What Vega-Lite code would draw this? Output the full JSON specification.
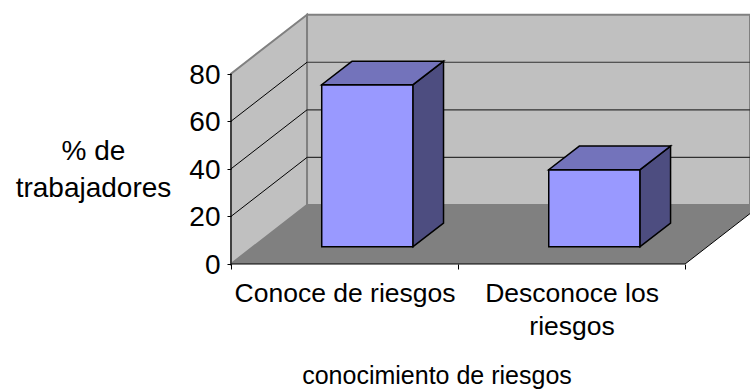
{
  "$schema": "https://vega.github.io/schema/vega-lite/v6.json",
  "width": 519,
  "height": 254,
  "padding": {"left": 231, "top": 10, "right": 0, "bottom": 125},
  "autosize": {"type": "none"},
  "background": "white",
  "config": {"view": {"stroke": null}, "font": "Liberation Sans"},
  "datasets": {
    "pared_fondo": [{"x": 0.3348, "x2": 2.286, "y": 24.8, "y2": 104.8}],
    "pared_lateral": [
      {"x": 0, "y": 0, "y2": 80},
      {"x": 0.3348, "y": 24.8, "y2": 104.8}
    ],
    "suelo": [
      {"x": 0, "x2": 2, "y": 0},
      {"x": 0.3348, "x2": 2.3348, "y": 24.8}
    ],
    "ejes": [
      {"x": 0, "x2": 0, "y": 0, "y2": 80},
      {"x": 0, "x2": 2, "y": 0, "y2": 0}
    ],
    "rejilla_fondo": [
      {"x": 0.3348, "x2": 2.286, "y": 44.8},
      {"x": 0.3348, "x2": 2.286, "y": 64.8},
      {"x": 0.3348, "x2": 2.286, "y": 84.8}
    ],
    "rejilla_lateral": [
      {"g": 20, "x": 0, "y": 20}, {"g": 20, "x": 0.3348, "y": 44.8},
      {"g": 40, "x": 0, "y": 40}, {"g": 40, "x": 0.3348, "y": 64.8},
      {"g": 60, "x": 0, "y": 60}, {"g": 60, "x": 0.3348, "y": 84.8}
    ],
    "frente": [
      {"categoria": "Conoce de riesgos", "x": 0.3996, "x2": 0.8018, "y": 7.27, "y2": 75.37},
      {"categoria": "Desconoce los riesgos", "x": 1.3996, "x2": 1.8018, "y": 7.27, "y2": 39.67}
    ],
    "lado": [
      {"categoria": "Conoce de riesgos", "x": 0.8018, "y": 7.27, "y2": 75.37},
      {"categoria": "Conoce de riesgos", "x": 0.9361, "y": 17.15, "y2": 85.25},
      {"categoria": "Desconoce los riesgos", "x": 1.8018, "y": 7.27, "y2": 39.67},
      {"categoria": "Desconoce los riesgos", "x": 1.9361, "y": 17.15, "y2": 49.55}
    ],
    "tapa": [
      {"categoria": "Conoce de riesgos", "x": 0.3996, "x2": 0.8018, "y": 75.37},
      {"categoria": "Conoce de riesgos", "x": 0.5339, "x2": 0.9361, "y": 85.25},
      {"categoria": "Desconoce los riesgos", "x": 1.3996, "x2": 1.8018, "y": 39.67},
      {"categoria": "Desconoce los riesgos", "x": 1.5339, "x2": 1.9361, "y": 49.55}
    ]
  },
  "encoding": {
    "x": {
      "field": "x",
      "type": "quantitative",
      "scale": {"domain": [0, 2.286], "nice": false, "zero": false},
      "axis": {
        "values": [0, 0.5, 1, 1.5, 2],
        "grid": false,
        "zindex": 1,
        "domain": false,
        "tickColor": "black",
        "tickSize": 5,
        "tickOpacity": {"condition": {"test": "datum.value % 1 === 0", "value": 1}, "value": 0},
        "labelExpr": "datum.value === 0.5 ? 'Conoce de riesgos' : datum.value === 1.5 ? ['Desconoce los', 'riesgos'] : ''",
        "labelFontSize": 26.5,
        "labelColor": "black",
        "labelLineHeight": 33,
        "labelLimit": 400,
        "labelOverlap": false,
        "labelFlush": false,
        "labelBound": false,
        "labelPadding": 11,
        "title": "conocimiento de riesgos",
        "titleFontSize": 25,
        "titleFontWeight": "normal",
        "titleColor": "black",
        "titleX": 205.5,
        "titleY": 119,
        "titleAlign": "center",
        "titleBaseline": "alphabetic"
      }
    },
    "y": {
      "field": "y",
      "type": "quantitative",
      "scale": {"domain": [0, 106.77], "nice": false, "zero": false},
      "axis": {
        "values": [0, 20, 40, 60, 80],
        "grid": false,
        "zindex": 1,
        "domain": false,
        "tickColor": "black",
        "tickSize": 4,
        "labelFontSize": 28,
        "labelColor": "black",
        "labelPadding": 7,
        "labelOffset": 1.5,
        "labelOverlap": false,
        "labelBound": false,
        "labelFlush": false,
        "title": ["% de", "trabajadores"],
        "titleFontSize": 28,
        "titleFontWeight": "normal",
        "titleColor": "black",
        "titleAngle": 0,
        "titleX": -138,
        "titleY": 149,
        "titleAlign": "center",
        "titleBaseline": "alphabetic",
        "titleLineHeight": 37
      }
    }
  },
  "layer": [
    {
      "data": {"name": "pared_fondo"},
      "mark": {"type": "rect", "color": "#c0c0c0", "stroke": "#808080", "strokeWidth": 2, "clip": true},
      "encoding": {"x2": {"field": "x2"}, "y2": {"field": "y2"}}
    },
    {
      "data": {"name": "pared_lateral"},
      "mark": {"type": "area", "color": "#c0c0c0", "stroke": "#808080", "strokeWidth": 2},
      "encoding": {"y2": {"field": "y2"}}
    },
    {
      "data": {"name": "suelo"},
      "mark": {"type": "area", "orient": "horizontal", "color": "#808080", "clip": true},
      "encoding": {"x2": {"field": "x2"}}
    },
    {
      "data": {"name": "suelo"},
      "mark": {"type": "line", "color": "black", "strokeWidth": 1, "clip": true},
      "encoding": {"x": {"field": "x2", "type": "quantitative"}}
    },
    {
      "data": {"name": "ejes"},
      "mark": {"type": "rule", "color": "black", "strokeWidth": 1},
      "encoding": {"x2": {"field": "x2"}, "y2": {"field": "y2"}}
    },
    {
      "data": {"name": "rejilla_fondo"},
      "mark": {"type": "rule", "color": "#303030", "strokeWidth": 1.2},
      "encoding": {"x2": {"field": "x2"}}
    },
    {
      "data": {"name": "rejilla_lateral"},
      "mark": {"type": "line", "color": "black", "strokeWidth": 1},
      "encoding": {"detail": {"field": "g"}}
    },
    {
      "data": {"name": "frente"},
      "mark": {"type": "rect", "color": "#9999ff", "stroke": "black", "strokeWidth": 1.5},
      "encoding": {"x2": {"field": "x2"}, "y2": {"field": "y2"}}
    },
    {
      "data": {"name": "lado"},
      "mark": {"type": "area", "color": "#4d4d80", "stroke": "black", "strokeWidth": 1.5},
      "encoding": {"y2": {"field": "y2"}, "detail": {"field": "categoria"}}
    },
    {
      "data": {"name": "tapa"},
      "mark": {"type": "area", "orient": "horizontal", "color": "#7373bb", "stroke": "black", "strokeWidth": 1.5},
      "encoding": {"x2": {"field": "x2"}, "detail": {"field": "categoria"}}
    }
  ]
}
